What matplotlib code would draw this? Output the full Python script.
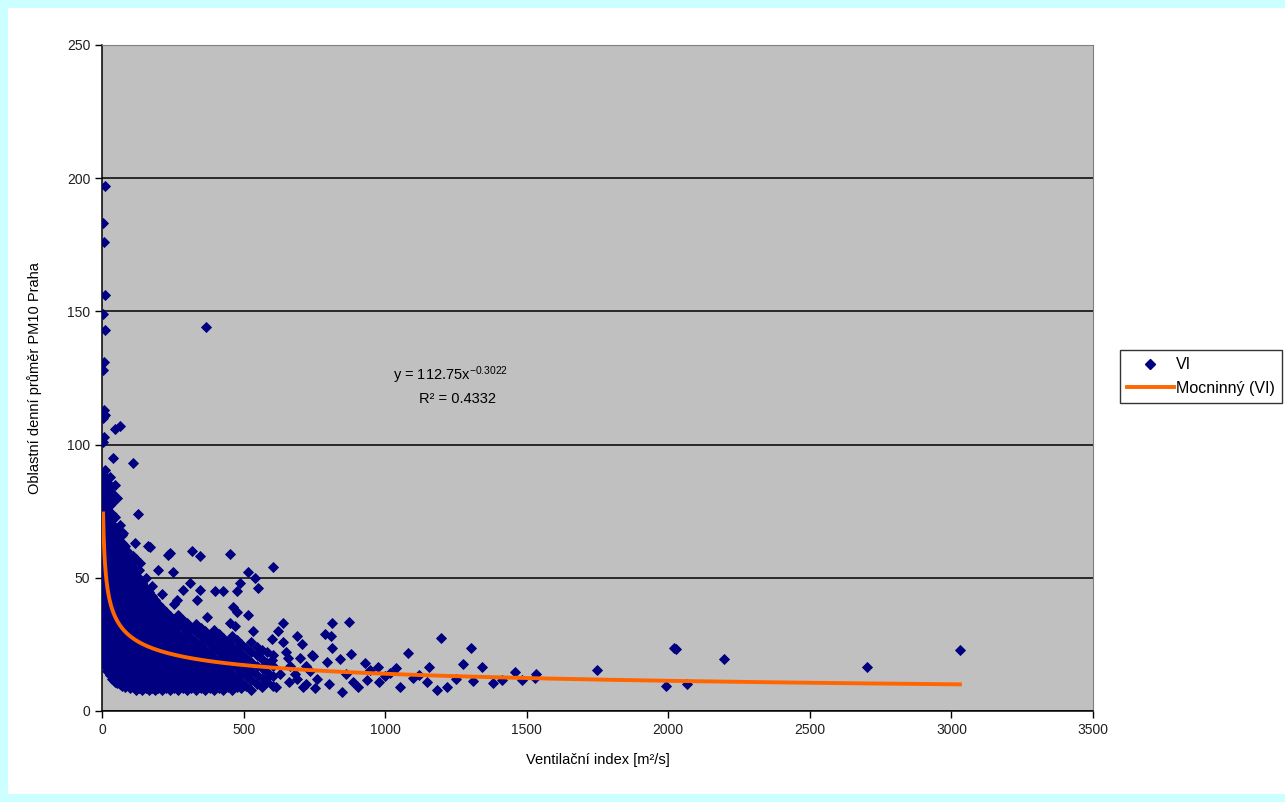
import matplotlib
matplotlib.use("Agg")
import matplotlib.pyplot as plt
import numpy as np
from matplotlib.patches import Rectangle
from matplotlib.lines import Line2D

plt.rcParams['font.family'] = ['Liberation Sans', 'DejaVu Sans']
plt.rcParams['mathtext.default'] = 'regular'

# ---- data (VI [m2/s], PM10 daily mean) ----
# sparse / outlying points
outlier_vi = [10, 4, 7, 9, 5, 11, 8, 4, 6, 10, 3, 46, 64, 7, 4, 39, 110, 367,
              127, 162, 318, 346, 452, 604, 516, 540, 487, 551, 399, 427, 477,
              462, 477, 516, 452, 470, 533, 639, 622, 600, 689, 706, 639, 170,
              240, 117, 74, 233, 251, 198, 134, 286, 265, 335, 371, 311, 346]
outlier_pm = [197, 183, 176, 156, 149, 143, 131, 128, 113, 111, 110, 106, 107,
              103, 101, 95, 93, 144, 74, 62, 60, 58, 59, 54, 52, 50, 48, 46,
              45, 45, 45, 39, 37, 36, 33, 32, 30, 33, 30, 27, 28, 25, 26, 61.6,
              59.3, 63, 67, 58.6, 52, 52.9, 55.5, 45.4, 41.7, 41.7, 35.3, 48,
              45.4]

tail_vi = [812, 872, 788, 809, 812, 742, 795, 657, 745, 840, 880, 929, 975,
           1081, 1155, 1197, 1218, 1183, 1275, 1303, 1342, 1310, 1381, 1413,
           1459, 1483, 1533, 1748, 2020, 2028, 1992, 2066, 2197, 2702, 3030,
           710, 752, 847, 887, 904, 936, 978, 1017, 1053, 1098, 1148, 946,
           1000, 1040, 860, 760, 680, 720, 660, 800, 1120, 1250, 1530,
           580, 600, 615, 630, 650, 665, 690, 700, 720, 735]
tail_pm = [33, 33.5, 29, 28, 23.6, 21, 18.4, 20, 20.6, 19.5, 21.4, 18, 16.5,
           21.8, 16.5, 27.4, 9, 8, 17.6, 23.6, 16.5, 11.3, 10.5, 11.6,
           14.6, 11.6, 13.9, 15.4, 23.6, 23.2, 9.4, 10.1, 19.5, 16.5, 22.9,
           9, 8.6, 7.1, 10.9, 9, 11.6, 10.9, 14.3, 9, 12.4, 10.9, 15.4,
           13, 16, 14, 12, 14, 17, 11, 10, 13.5, 12, 12.5,
           12, 19, 9, 14, 22, 17, 12, 20, 10, 15]

# dense core, read column by column: (VI, PM10 values in that column)
core_near = [
    (2, [19, 22, 25, 28.5, 31.5, 35, 38, 41, 44.5, 47.5, 51, 54, 57, 60.5,
         63.5, 67, 70, 73, 76.5, 79.5, 83, 86, 89]),
    (10, [17, 20.5, 23.5, 27, 30, 33, 36.5, 39.5, 43, 46, 49, 52.5, 55.5, 59,
          62, 65, 68.5, 71.5, 75, 78, 81, 84.5, 87.5, 90.5]),
    (18, [15, 18, 21.5, 24.5, 28, 31, 34.5, 37.5, 41, 44, 47, 50.5, 53.5, 57,
          60, 63, 66.5, 69.5, 73, 76, 79, 82.5, 86]),
    (27, [13.5, 16.5, 20, 23, 26, 29.5, 32.5, 36, 39, 42, 45.5, 48.5, 52, 55,
          58, 61.5, 64.5, 68, 71, 74, 77.5, 81, 84.5, 88]),
    (36, [12, 15, 18.5, 21.5, 25, 28, 31, 34.5, 37.5, 41, 44, 47, 50.5, 53.5,
          57, 60, 63, 66.5, 70, 74, 78, 82]),
    (45, [11, 14, 17, 20.5, 23.5, 27, 30, 33, 36.5, 39.5, 43, 46, 49, 52.5,
          55.5, 59, 62.5, 66, 69, 73, 85]),
    (54, [10.5, 13.5, 16.5, 19.5, 23, 26, 29, 32.5, 35.5, 39, 42, 45, 48.5,
          51.5, 55, 58, 61.5, 65, 68.5, 80]),
    (63, [10, 12.5, 15.5, 18.5, 22, 25, 28, 31.5, 34.5, 38, 41, 44, 47.5,
          50.5, 54, 57, 60.5, 64, 70]),
    (72, [9.5, 12, 14.5, 17.5, 21, 24, 27, 30.5, 33.5, 37, 40, 43, 46.5,
          49.5, 53, 56, 59.5, 63, 66]),
    (81, [9, 11.5, 14, 16.5, 19.5, 23, 26, 29, 32.5, 35.5, 39, 42, 45, 48.5,
          51.5, 55, 58, 62]),
    (90, [10, 13, 16, 19, 22, 25, 28, 31, 34.5, 37.5, 41, 44, 47, 50, 53.5,
          57, 60]),
]
core_mid = [
    (100, [8.5, 11.5, 14.5, 17.5, 20.5, 23.5, 27, 30, 33, 36, 39, 42.5, 45.5,
           48.5, 52, 56]),
    (110, [9, 12, 15, 18, 21, 24.5, 27.5, 30.5, 33.5, 37, 40, 43, 46.5, 50,
           54, 58]),
    (121, [8, 10.5, 13.5, 16.5, 19.5, 22.5, 26, 29, 32, 35, 38.5, 41.5, 45,
           48, 52, 57]),
    (132, [8.5, 11.5, 14.5, 17.5, 21, 24, 27, 30, 33.5, 36.5, 40, 43, 46.5,
           50, 53]),
    (143, [8, 10, 13, 16, 19, 22, 25.5, 28.5, 31.5, 35, 38, 41, 44.5, 48]),
    (154, [8.5, 11.5, 14.5, 17.5, 20.5, 24, 27, 30, 33, 36.5, 39.5, 43, 46,
           50]),
    (165, [8, 10, 13, 16, 19, 22, 25, 28.5, 31.5, 35, 38, 41, 44.5]),
    (176, [8.5, 11.5, 14.5, 17.5, 20.5, 23.5, 27, 30, 33, 36.5, 39.5, 43,
           47]),
    (187, [8, 10, 13, 16, 19, 22, 25.5, 28.5, 31.5, 35, 38, 41.5]),
    (198, [8.5, 11.5, 14.5, 17.5, 20.5, 24, 27, 30, 33.5, 36.5, 40]),
    (212, [8, 10, 13, 16, 19, 22, 25, 28.5, 31.5, 35, 38.5, 44]),
    (226, [8.5, 11.5, 14.5, 17.5, 20.5, 23.5, 27, 30, 33.5, 37]),
    (240, [8, 10, 13, 16, 19, 22, 25.5, 28.5, 32, 35.5]),
    (255, [8.5, 11.5, 14.5, 17.5, 20.5, 24, 27, 30.5, 34, 40]),
    (270, [8, 10, 13, 16, 19, 22, 25.5, 29, 32.5, 36]),
    (285, [8.5, 11.5, 14.5, 17.5, 20.5, 24, 27.5, 31, 34]),
]
core_far = [
    (300, [8, 10, 13, 16, 19, 22.5, 26, 29.5, 33]),
    (316, [8.5, 11.5, 14.5, 17.5, 21, 24, 27.5, 31]),
    (332, [8, 10, 13, 16, 19, 22.5, 26, 29.5, 32.5]),
    (348, [8.5, 11.5, 14.5, 17.5, 21, 24.5, 28, 31]),
    (364, [8, 10, 13, 16, 19.5, 23, 26.5, 30]),
    (380, [8.5, 11.5, 14.5, 18, 21.5, 25, 28.5]),
    (396, [8, 10, 13, 16.5, 20, 23.5, 27, 30.5]),
    (412, [8.5, 11.5, 15, 18.5, 22, 25.5, 29]),
    (428, [8, 10, 13.5, 17, 20.5, 24, 27.5]),
    (444, [9, 12, 15.5, 19, 22.5, 26]),
    (460, [8, 10.5, 14, 17.5, 21, 24.5, 28]),
    (476, [9, 12.5, 16, 19.5, 23, 26.5]),
    (492, [8.5, 11, 14.5, 18, 21.5, 25]),
    (510, [9.5, 13, 16.5, 20, 23.5]),
    (528, [8, 11.5, 15, 18.5, 22, 26]),
    (546, [10, 13.5, 17, 21, 24]),
    (564, [9, 12.5, 16, 19.5, 23]),
    (584, [11, 14.5, 18, 22]),
    (604, [9.5, 13, 17, 21]),
]

# power trendline as printed on the chart
fit_a = 112.75
fit_b = -0.3022
fit_r2 = 0.4332
fit_x_from, fit_x_to = 4, 3030

# ---- assemble ----
vi = list(outlier_vi) + list(tail_vi)
pm10 = list(outlier_pm) + list(tail_pm)
for group in (core_near, core_mid, core_far):
    for x, ys in group:
        vi += [x] * len(ys)
        pm10 += ys

fig = plt.figure(figsize=(12.85, 8.02), dpi=100)
fig.patch.set_facecolor('#ccffff')
fig.add_artist(Rectangle((8 / 1285, 8 / 802), 1 - 8 / 1285, 1 - 16 / 802,
                         transform=fig.transFigure, facecolor='white',
                         edgecolor='none', zorder=-5))

ax = fig.add_axes([102 / 1285, 91 / 802, 991 / 1285, 666 / 802])
ax.set_facecolor('#c0c0c0')

ax.plot(vi, pm10, linestyle='none', marker='D', markersize=4.6,
        color='#000080', markeredgewidth=0.6, zorder=3)

fx = np.geomspace(fit_x_from, fit_x_to, 400)
ax.plot(fx, fit_a * fx ** fit_b, color='#ff6600', linewidth=2.8, zorder=4)

ax.set_xlim(0, 3500)
ax.set_ylim(0, 250)
ax.set_xticks(np.arange(0, 3501, 500))
ax.set_yticks(np.arange(0, 251, 50))
ax.yaxis.grid(True, color='black', linewidth=1.1)
ax.set_axisbelow(True)

for side in ('top', 'right'):
    ax.spines[side].set_color('#808080')
for side in ('left', 'bottom'):
    ax.spines[side].set_color('black')
    ax.spines[side].set_linewidth(1.1)
ax.tick_params(direction='out', length=5, width=1, labelsize=10,
               colors='black', labelcolor='#202020')

ax.set_xlabel('Ventilační index [m²/s]', fontsize=10.5, labelpad=12)
ax.set_ylabel('Oblastní denní průměr PM10 Praha', fontsize=10.5, labelpad=18)

ax.text(1229, 126, f'y = {fit_a}x$^{{{fit_b}}}$', fontsize=10.5,
        ha='center', va='center')
ax.text(1254, 117, f'R² = {fit_r2}', fontsize=10.5, ha='center', va='center')

handles = [Line2D([], [], linestyle='none', marker='D', markersize=4.6,
                  color='#000080'),
           Line2D([], [], color='#ff6600', linewidth=2.8)]
leg = fig.legend(handles, ['VI', 'Mocninný (VI)'], loc='upper left',
                 bbox_to_anchor=(1120 / 1285, 452 / 802), fontsize=11.5,
                 frameon=True, fancybox=False, handlelength=2.9,
                 handletextpad=0.15, borderpad=0.45, labelspacing=0.55,
                 borderaxespad=0)
leg.get_frame().set_edgecolor('black')
leg.get_frame().set_linewidth(1)

fig.savefig('out.png', dpi=100, facecolor=fig.get_facecolor())
